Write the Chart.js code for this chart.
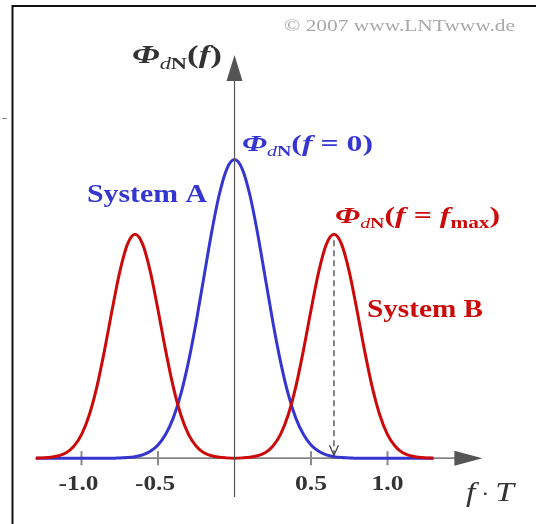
<!DOCTYPE html>
<html>
<head>
<meta charset="utf-8">
<script src="https://cdn.jsdelivr.net/npm/chart.js@4/dist/chart.umd.min.js"></script>
<style>
   html, body { margin: 0; padding: 0; background: #fff; }
   #psd { display: block; }
</style>
</head>
<body>
<canvas id="psd" width="536" height="524"></canvas>
<script>
// normalised frequency f*T
const fT = [
   -1.30, -1.25, -1.20, -1.15, -1.10, -1.05, -1.00, -0.95, -0.90, -0.85,
   -0.80, -0.75, -0.70, -0.65, -0.60, -0.55, -0.50, -0.45, -0.40, -0.35,
   -0.30, -0.25, -0.20, -0.15, -0.10, -0.05, 0.00, 0.05, 0.10, 0.15,
   0.20, 0.25, 0.30, 0.35, 0.40, 0.45, 0.50, 0.55, 0.60, 0.65,
   0.70, 0.75, 0.80, 0.85, 0.90, 0.95, 1.00, 1.05, 1.10, 1.15,
   1.20, 1.25, 1.30,
];

// noise PSD of system A (single lobe at f = 0)
const systemA = [
   0, 0, 0, 0, 0, 0, 0, 0, 0, 0,
   0, 0.001, 0.002, 0.005, 0.011, 0.023, 0.044, 0.080, 0.135, 0.216,
   0.325, 0.458, 0.607, 0.755, 0.882, 0.969, 1.000, 0.969, 0.882, 0.755,
   0.607, 0.458, 0.325, 0.216, 0.135, 0.080, 0.044, 0.023, 0.011, 0.005,
   0.002, 0.001, 0, 0, 0, 0, 0, 0, 0, 0,
   0, 0, 0,
];

// noise PSD of system B (two lobes at +/- f_max)
const systemB = [
   0.000, 0.001, 0.003, 0.008, 0.018, 0.040, 0.079, 0.144, 0.238, 0.360,
   0.496, 0.624, 0.716, 0.750, 0.716, 0.624, 0.496, 0.360, 0.238, 0.144,
   0.079, 0.040, 0.018, 0.008, 0.003, 0.001, 0.000, 0.001, 0.003, 0.008,
   0.018, 0.040, 0.079, 0.144, 0.238, 0.360, 0.496, 0.624, 0.716, 0.750,
   0.716, 0.624, 0.496, 0.360, 0.238, 0.144, 0.079, 0.040, 0.018, 0.008,
   0.003, 0.001, 0.000,
];

const fMax = 0.65;
const tickValues = [-1.0, -0.5, 0.5, 1.0];
const tickLabels = ['-1.0', '-0.5', '0.5', '1.0'];

const blue = '#3535d0';
const red = '#cc0a0a';
const axisColor = '#555';
const serif = '"Liberation Serif", "DejaVu Serif", serif';

const toPoints = (ys) => fT.map((x, i) => ({ x, y: ys[i] }));

// draws a row of text pieces (sub/superscripts via dy), squeezed/stretched to a width
const drawRich = (ctx, runs, x, y, width, color, align) => {
   ctx.save();
   ctx.fillStyle = color;
   ctx.textBaseline = 'alphabetic';
   ctx.textAlign = 'left';
   let natural = 0;
   runs.forEach((r) => {
      ctx.font = r.font;
      natural += ctx.measureText(r.text).width;
   });
   const sx = width / natural;
   ctx.translate(align === 'center' ? x - width / 2 : x, y);
   ctx.scale(sx, 1);
   let cx = 0;
   runs.forEach((r) => {
      ctx.font = r.font;
      ctx.fillText(r.text, cx, r.dy || 0);
      cx += ctx.measureText(r.text).width;
   });
   ctx.restore();
};

const f = (size, style) => `${style || ''} ${size}px ${serif}`;

const phiRuns = (size, bold, tail) => {
   const b = bold ? 'bold ' : '';
   const sub = Math.round(size * 0.62);
   return [
      { text: 'Φ', font: f(size, b + 'italic') },
      { text: 'd', font: f(sub, 'italic'), dy: size * 0.22 },
      { text: 'N', font: f(sub, b), dy: size * 0.22 },
      { text: '(', font: f(size, b) },
      { text: 'f', font: f(size, b + 'italic') },
   ].concat(tail);
};

const arrowHead = (ctx, tipX, tipY, dx, dy, len, half) => {
   // dx/dy: unit direction the arrow points to
   const bx = tipX - dx * len;
   const by = tipY - dy * len;
   ctx.beginPath();
   ctx.moveTo(tipX, tipY);
   ctx.lineTo(bx - dy * half, by + dx * half);
   ctx.lineTo(bx + dy * half, by - dx * half);
   ctx.closePath();
   ctx.fill();
};

const decorations = {
   id: 'decorations',
   beforeDatasetsDraw(chart) {
      const { ctx, scales: { x, y } } = chart;
      const y0 = y.getPixelForValue(0);
      ctx.save();
      // outer frame
      ctx.strokeStyle = '#111';
      ctx.lineWidth = 2;
      ctx.beginPath();
      ctx.moveTo(12.5, 524);
      ctx.lineTo(12.5, 6);
      ctx.lineTo(536, 6);
      ctx.stroke();
      ctx.strokeStyle = '#888';
      ctx.lineWidth = 1;
      ctx.beginPath();
      ctx.moveTo(2, 118.5);
      ctx.lineTo(7, 118.5);
      ctx.stroke();

      // abscissa
      ctx.strokeStyle = axisColor;
      ctx.fillStyle = axisColor;
      ctx.lineWidth = 1.2;
      ctx.beginPath();
      ctx.moveTo(x.getPixelForValue(-1.3), y0);
      ctx.lineTo(x.right - 20, y0);
      ctx.stroke();
      arrowHead(ctx, x.right, y0, 1, 0, 28, 7.5);

      // tick marks and labels
      ctx.strokeStyle = '#8a8a8a';
      ctx.lineWidth = 2;
      tickValues.forEach((v, i) => {
         const px = x.getPixelForValue(v);
         ctx.beginPath();
         ctx.moveTo(px, y0 - 7);
         ctx.lineTo(px, y0 + 7);
         ctx.stroke();
         drawRich(ctx, [{ text: tickLabels[i], font: f(22, 'bold') }], px - (v < 0 ? 3 : 0), y0 + 32,
            v < 0 ? 40 : 32, '#333', 'center');
      });
      ctx.restore();
   },
   afterDatasetsDraw(chart) {
      const { ctx, scales: { x, y } } = chart;
      const x0 = x.getPixelForValue(0);
      const y0 = y.getPixelForValue(0);
      ctx.save();
      // ordinate
      ctx.strokeStyle = axisColor;
      ctx.fillStyle = axisColor;
      ctx.lineWidth = 1.2;
      ctx.beginPath();
      ctx.moveTo(x0, y.bottom);
      ctx.lineTo(x0, y.top + 20);
      ctx.stroke();
      arrowHead(ctx, x0, y.top, 0, -1, 26, 8);

      // dashed marker under the right-hand lobe of system B
      const xm = x.getPixelForValue(fMax);
      ctx.strokeStyle = '#444';
      ctx.setLineDash([6, 4]);
      ctx.lineWidth = 1.3;
      ctx.beginPath();
      ctx.moveTo(xm, y.getPixelForValue(0.73));
      ctx.lineTo(xm, y0 - 3);
      ctx.stroke();
      ctx.setLineDash([]);
      ctx.beginPath();
      ctx.moveTo(xm - 4.5, y0 - 13);
      ctx.lineTo(xm, y0 - 3);
      ctx.lineTo(xm + 4.5, y0 - 13);
      ctx.stroke();

      // texts
      drawRich(ctx, [{ text: '© 2007 www.LNTwww.de', font: f(17) }], 284, 31, 231, '#a8a8a8');
      drawRich(ctx, phiRuns(25, true, [{ text: ')', font: f(25, 'bold') }]), 132, 63, 90, '#333');
      drawRich(ctx, phiRuns(24, true, [
         { text: ' = ', font: f(24, 'bold') },
         { text: '0', font: f(24, 'bold') },
         { text: ')', font: f(24, 'bold') },
      ]), 242, 151, 131, blue);
      drawRich(ctx, phiRuns(24, true, [
         { text: ' = ', font: f(24, 'bold') },
         { text: 'f', font: f(24, 'bold italic') },
         { text: 'max', font: f(16, 'bold'), dy: 5 },
         { text: ')', font: f(24, 'bold') },
      ]), 335, 223, 165, red);
      drawRich(ctx, [{ text: 'System A', font: f(25, 'bold') }], 87, 202, 120, blue);
      drawRich(ctx, [{ text: 'System B', font: f(25, 'bold') }], 367, 317, 116, red);
      drawRich(ctx, [
         { text: 'f', font: f(28, 'italic') },
         { text: ' · ', font: f(20) },
         { text: 'T', font: f(28, 'italic') },
      ], 466, 501, 48, '#333');
      ctx.restore();
   },
};

new Chart(document.getElementById('psd'), {
   type: 'line',
   data: {
      datasets: [
         {
            label: 'System B',
            data: toPoints(systemB),
            borderColor: red,
            borderWidth: 3,
            pointRadius: 0,
            cubicInterpolationMode: 'monotone',
         },
         {
            label: 'System A',
            data: toPoints(systemA),
            borderColor: blue,
            borderWidth: 3,
            pointRadius: 0,
            cubicInterpolationMode: 'monotone',
         },
      ],
   },
   options: {
      responsive: false,
      animation: false,
      devicePixelRatio: 1,
      layout: { padding: { left: 35.6, right: 53.6, top: 55, bottom: 27 } },
      plugins: { legend: { display: false }, tooltip: { enabled: false } },
      scales: {
         x: { type: 'linear', min: -1.3, max: 1.62, display: false },
         y: { type: 'linear', min: -0.13, max: 1.35, display: false },
      },
   },
   plugins: [decorations],
});
</script>
</body>
</html>
